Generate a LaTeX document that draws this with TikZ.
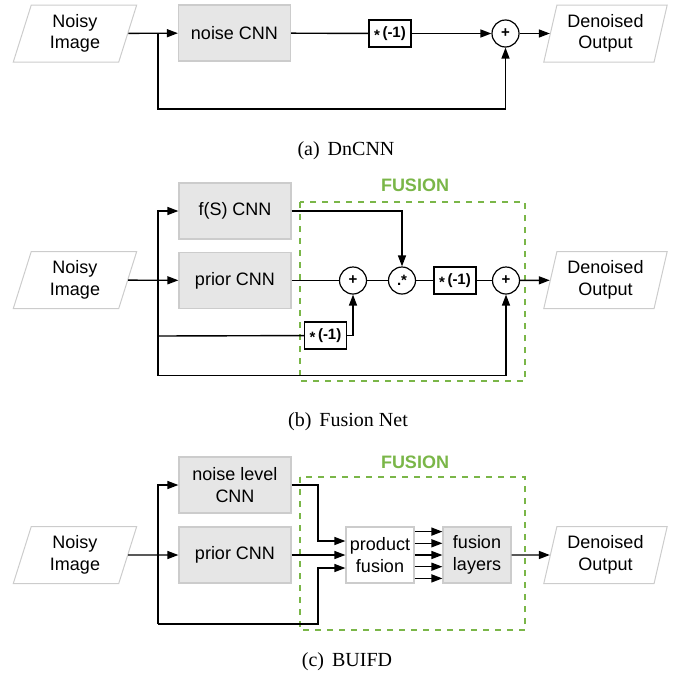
\documentclass[tikz,border=0pt]{standalone}
\usepackage{fontspec}
\setmainfont{Liberation Sans}
\newfontfamily\capfont{Liberation Serif}
\usetikzlibrary{arrows.meta,shapes.geometric}
\definecolor{boxgray}{HTML}{E6E6E6}
\definecolor{linegray}{HTML}{CCCCCC}
\definecolor{fusegreen}{HTML}{7AB648}
\newcommand{\negone}{\raisebox{-0.45ex}{*}\,(-1)}
\tikzset{
  io/.style={trapezium,trapezium left angle=75,trapezium right angle=105,
    trapezium stretches=true,minimum width=124pt,minimum height=57pt,
    draw=linegray,line width=1pt,align=center,inner sep=0pt},
  cnn/.style={rectangle,fill=boxgray,draw=linegray,line width=1.2pt,
    minimum width=112pt,minimum height=56pt,align=center},
  neg/.style={rectangle,draw=black,line width=1.2pt,minimum width=42pt,
    minimum height=27pt,inner sep=0pt,font=\fontsize{15}{18}\selectfont\bfseries},
  op/.style={circle,draw=black,line width=1.2pt,minimum size=27pt,inner sep=0pt,
    font=\fontsize{15}{17}\selectfont\bfseries},
  link/.style={line width=1.4pt},
  flow/.style={link,-{Triangle[length=11pt,width=8pt]}},
  fusebox/.style={draw=fusegreen,line width=2.6pt,dash pattern=on 6pt off 6pt},
  fuselabel/.style={text=fusegreen,font=\fontsize{18}{21}\selectfont\bfseries},
  caption/.style={font=\capfont\fontsize{20}{24}\selectfont}
}
\begin{document}
\begin{tikzpicture}[x=1pt,y=-1pt,font=\fontsize{18}{21.6}\selectfont]
\useasboundingbox (0,0) rectangle (680,683);

% (a) DnCNN
\node[io] (in1) at (75,33.5) {Noisy\\Image};
\node[cnn] (dn) at (234.5,33) {noise CNN};
\node[neg] (n1) at (390,33.5) {\negone};
\node[op] (s1) at (505.5,33.5) {+};
\node[io] (out1) at (605.5,33.5) {Denoised\\Output};
\coordinate (j1) at (158,33.5);
\coordinate (b1) at (158,109);
\draw[flow] (in1) -- (dn);
\draw[link] (dn) -- (n1);
\draw[flow] (n1) -- (s1);
\draw[flow] (s1) -- (out1);
\draw[flow] (j1) -- (b1) -| (s1);
\node[caption] (capa) at (346,151) {(a)\hspace{0.4em}DnCNN};

% (b) Fusion Net
\draw[fusebox] (300,202) rectangle (525,381);
\node[fuselabel] (fuse2) at (415,185) {FUSION};
\node[io] (in2) at (75,280) {Noisy\\Image};
\node[cnn] (fs) at (235,211) {f(S) CNN};
\node[cnn] (pr2) at (235,280.5) {prior CNN};
\node[op] (s2) at (353,280.5) {+};
\node[op] (dot) at (402,280.5) {.*};
\node[neg] (n2) at (455,280.5) {\negone};
\node[op] (s3) at (506,280.5) {+};
\node[neg] (n3) at (325.5,335.5) {\negone};
\node[io] (out2) at (605.5,280) {Denoised\\Output};
\coordinate (j2) at (158,280.5);
\coordinate (b2a) at (158,336);
\coordinate (b2b) at (158,375.5);
\draw[flow] (in2) -- (pr2);
\draw[flow] (j2) |- (fs);
\draw[link] (j2) -- (b2b);
\draw[link] (b2a) -- (n3);
\draw[flow] (n3) -| (s2);
\draw[flow] (b2b) -| (s3);
\draw[link] (pr2) -- (s2);
\draw[link] (s2) -- (dot);
\draw[flow] (fs) -| (dot);
\draw[link] (dot) -- (n2);
\draw[link] (n2) -- (s3);
\draw[flow] (s3) -- (out2);
\node[caption] (capb) at (348,422) {(b)\hspace{0.4em}Fusion Net};

% (c) BUIFD
\draw[fusebox] (300,477) rectangle (525,630);
\node[fuselabel] (fuse3) at (415,462) {FUSION};
\node[io] (in3) at (75,555) {Noisy\\Image};
\node[cnn] (nl) at (235,485) {noise level\\CNN};
\node[cnn] (pr3) at (235,555) {prior CNN};
\node[cnn,fill=white,minimum width=68pt] (pf) at (380,555) {product\\fusion};
\node[cnn,minimum width=68pt] (fl) at (477,555) {fusion\\layers};
\node[io] (out3) at (605.5,555) {Denoised\\Output};
\coordinate (j3) at (158,555);
\coordinate (b3) at (158,624);
\coordinate (k1) at (318,541);
\coordinate (k2) at (318,568);
\draw[flow] (in3) -- (pr3);
\draw[flow] (j3) |- (nl);
\draw[link] (j3) -- (b3);
\draw[flow] (nl) -| (k1) -- (pf.west |- k1);
\draw[flow] (pr3) -- (pf);
\draw[flow] (b3) -| (k2) -- (pf.west |- k2);
\foreach \dy in {-23.4,-11.7,0,11.7,23.4}
  \draw[flow] ([yshift=\dy pt]pf.east) -- ([yshift=\dy pt]fl.west);
\draw[flow] (fl) -- (out3);
\node[caption] (capc) at (347,662) {(c)\hspace{0.4em}BUIFD};
\end{tikzpicture}
\end{document}
